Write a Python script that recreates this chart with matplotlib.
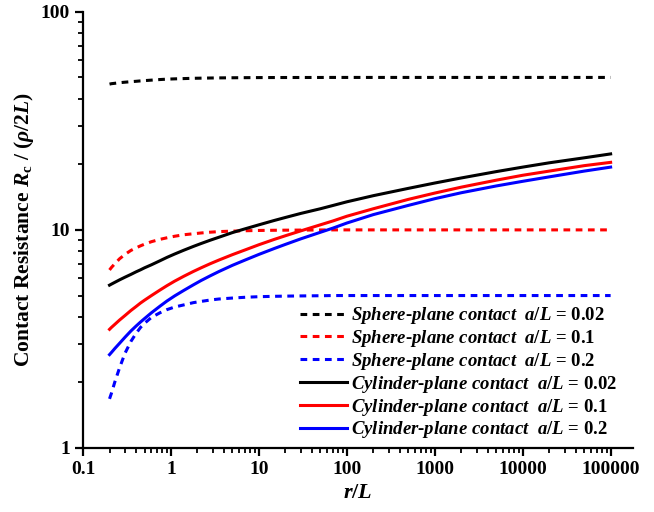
import matplotlib
matplotlib.use('Agg')
import matplotlib.pyplot as plt
from matplotlib.ticker import FixedLocator, FixedFormatter, LogLocator, NullFormatter

plt.rcParams['font.family'] = 'Liberation Serif'
plt.rcParams['font.weight'] = 'bold'
plt.rcParams['mathtext.fontset'] = 'custom'
plt.rcParams['mathtext.rm'] = 'Liberation Serif:bold'
plt.rcParams['mathtext.it'] = 'Liberation Serif:italic:bold'
plt.rcParams['mathtext.bf'] = 'Liberation Serif:bold'

# r/L values shared by all curves
r_L = [0.2, 0.21, 0.23, 0.26, 0.3, 0.35, 0.4, 0.45, 0.5, 0.6, 0.75, 0.9,
       1.1, 1.4, 1.8, 2.2, 2.8, 3.5, 5, 7, 10, 15, 20, 30, 50, 70, 100,
       200, 500, 1000, 2000, 5000, 1e4, 2e4, 5e4, 1e5]

sphere_002 = [46.6, 46.8, 47.0, 47.3, 47.55, 47.8, 48.0, 48.2, 48.35, 48.6,
              48.9, 49.1, 49.25, 49.4, 49.55, 49.62, 49.7, 49.76, 49.83,
              49.88, 49.92, 49.95, 49.96, 49.97, 49.98, 50, 50, 50, 50, 50,
              50, 50, 50, 50, 50, 50]
sphere_01 = [6.55, 6.72, 7.0, 7.37, 7.72, 8.05, 8.27, 8.45, 8.6, 8.83, 9.05,
             9.2, 9.35, 9.5, 9.6, 9.68, 9.76, 9.82, 9.87, 9.91, 9.94, 9.96,
             9.97, 9.98, 9.99, 10, 10, 10, 10, 10, 10, 10, 10, 10, 10, 10]
sphere_02 = [1.68, 1.78, 2.01, 2.33, 2.72, 3.08, 3.35, 3.57, 3.73, 3.97, 4.17,
             4.31, 4.43, 4.53, 4.64, 4.70, 4.77, 4.82, 4.87, 4.91, 4.94, 4.96,
             4.97, 4.98, 4.99, 5, 5, 5, 5, 5, 5, 5, 5, 5, 5, 5]
cyl_002 = [5.58, 5.64, 5.75, 5.9, 6.07, 6.25, 6.42, 6.56, 6.7, 6.92, 7.22,
           7.48, 7.75, 8.07, 8.4, 8.66, 8.97, 9.25, 9.72, 10.12, 10.55, 11.05,
           11.4, 11.9, 12.5, 12.95, 13.45, 14.35, 15.5, 16.4, 17.3, 18.5,
           19.4, 20.3, 21.4, 22.3]
cyl_01 = [3.5, 3.57, 3.69, 3.86, 4.05, 4.27, 4.45, 4.62, 4.76, 5.0, 5.3,
          5.55, 5.82, 6.13, 6.45, 6.7, 7.0, 7.27, 7.7, 8.1, 8.55, 9.05, 9.4,
          9.9, 10.55, 11.0, 11.55, 12.5, 13.8, 14.75, 15.7, 16.9, 17.8, 18.6,
          19.7, 20.4]
cyl_02 = [2.68, 2.74, 2.86, 3.02, 3.22, 3.44, 3.62, 3.78, 3.92, 4.17, 4.47,
          4.72, 4.98, 5.28, 5.6, 5.86, 6.16, 6.44, 6.88, 7.28, 7.72, 8.22,
          8.58, 9.1, 9.75, 10.2, 10.75, 11.75, 12.95, 13.9, 14.8, 15.9, 16.7,
          17.5, 18.6, 19.4]

labels = ['$\\it{Sphere}$-$\\it{plane\\ contact}$  $\\it{a/L}$ = 0.02',
          '$\\it{Sphere}$-$\\it{plane\\ contact}$  $\\it{a/L}$ = 0.1',
          '$\\it{Sphere}$-$\\it{plane\\ contact}$  $\\it{a/L}$ = 0.2',
          '$\\it{Cylinder}$-$\\it{plane\\ contact}$  $\\it{a/L}$ = 0.02',
          '$\\it{Cylinder}$-$\\it{plane\\ contact}$  $\\it{a/L}$ = 0.1',
          '$\\it{Cylinder}$-$\\it{plane\\ contact}$  $\\it{a/L}$ = 0.2']

x_ticks = [0.1, 1, 10, 100, 1000, 10000, 100000]
x_tick_labels = ['0.1', '1', '10', '100', '1000', '10000', '100000']
y_ticks = [1, 10, 100]
y_tick_labels = ['1', '10', '100']

fig = plt.figure(figsize=(6.54, 5.12), dpi=100)
ax = fig.add_axes([0.127, 0.125, 0.841, 0.852])

lw = 2.2
dash = (0, (2.2, 1.8))
ax.plot(r_L, sphere_002, color='black', lw=lw, linestyle=dash, label=labels[0])
ax.plot(r_L, sphere_01, color='red', lw=lw, linestyle=dash, label=labels[1])
ax.plot(r_L, sphere_02, color='blue', lw=lw, linestyle=dash, label=labels[2])
ax.plot(r_L, cyl_002, color='black', lw=lw, label=labels[3])
ax.plot(r_L, cyl_01, color='red', lw=lw, label=labels[4])
ax.plot(r_L, cyl_02, color='blue', lw=lw, label=labels[5])

ax.set_xscale('log')
ax.set_yscale('log')
ax.set_xlim(0.1, 1.8e5)
ax.set_ylim(1, 100)

ax.xaxis.set_major_locator(FixedLocator(x_ticks))
ax.xaxis.set_major_formatter(FixedFormatter(x_tick_labels))
ax.xaxis.set_minor_locator(LogLocator(base=10, subs=range(2, 10), numticks=20))
ax.xaxis.set_minor_formatter(NullFormatter())
ax.yaxis.set_major_locator(FixedLocator(y_ticks))
ax.yaxis.set_major_formatter(FixedFormatter(y_tick_labels))
ax.yaxis.set_minor_locator(LogLocator(base=10, subs=range(2, 10), numticks=20))
ax.yaxis.set_minor_formatter(NullFormatter())

for side in ['top', 'right']:
    ax.spines[side].set_visible(False)
for side in ['left', 'bottom']:
    ax.spines[side].set_linewidth(1.6)

ax.tick_params(which='major', direction='out', length=6, width=1.6, labelsize=14)
ax.tick_params(which='minor', direction='out', length=3.5, width=1.3)

ax.set_xlabel('$\\it{r/L}$', fontsize=16, labelpad=4)
ax.set_ylabel('Contact Resistance $\\it{R}_{\\rm c}$ / ($\\it{\\rho}$/2$\\it{L}$)',
              fontsize=15.5, fontweight='bold', labelpad=3)

ax.legend(loc='lower right', bbox_to_anchor=(0.984, 0.0), borderaxespad=0,
          frameon=False, prop={'size': 13.5, 'weight': 'bold'},
          handlelength=2.5, handletextpad=0.2, labelspacing=0.1)

fig.savefig('out.png', dpi=100)
